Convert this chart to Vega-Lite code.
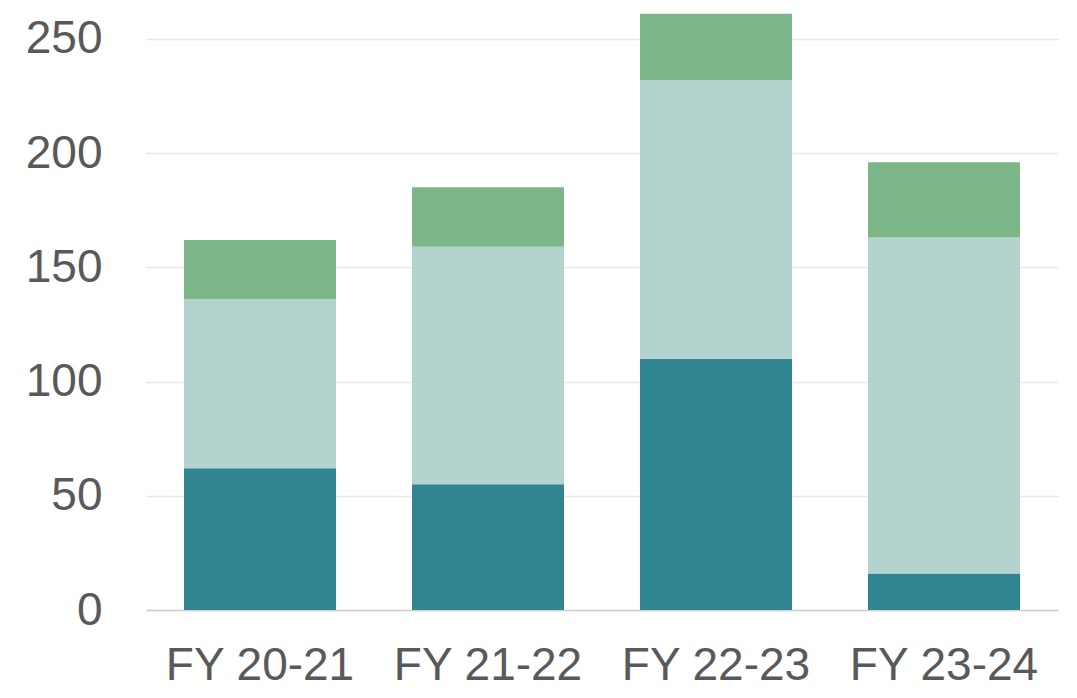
{
  "$schema": "https://vega.github.io/schema/vega-lite/v6.json",
  "width": 912,
  "height": 610,
  "autosize": {"type": "none"},
  "padding": {"left": 146, "top": 0, "right": 19, "bottom": 88},
  "background": "white",
  "config": {"view": {"stroke": null}, "font": "Liberation Sans"},
  "data": {
    "values": [
      {"year": "FY 20-21", "part": "A", "value": 62},
      {"year": "FY 20-21", "part": "B", "value": 74},
      {"year": "FY 20-21", "part": "C", "value": 26},
      {"year": "FY 21-22", "part": "A", "value": 55},
      {"year": "FY 21-22", "part": "B", "value": 104},
      {"year": "FY 21-22", "part": "C", "value": 26},
      {"year": "FY 22-23", "part": "A", "value": 110},
      {"year": "FY 22-23", "part": "B", "value": 122},
      {"year": "FY 22-23", "part": "C", "value": 29},
      {"year": "FY 23-24", "part": "A", "value": 16},
      {"year": "FY 23-24", "part": "B", "value": 147},
      {"year": "FY 23-24", "part": "C", "value": 33}
    ]
  },
  "mark": {"type": "bar"},
  "encoding": {
    "x": {
      "field": "year",
      "type": "nominal",
      "sort": null,
      "title": null,
      "scale": {"paddingInner": 0.3333, "paddingOuter": 0.1667},
      "axis": {
        "labelAngle": 0,
        "labelFontSize": 46,
        "labelColor": "#595959",
        "labelPadding": 33,
        "labelLimit": 0,
        "labelOverlap": false,
        "ticks": false,
        "domainColor": "#d0d0d0",
        "domainWidth": 1.5,
        "grid": false
      }
    },
    "y": {
      "field": "value",
      "type": "quantitative",
      "stack": "zero",
      "title": null,
      "scale": {"domain": [0, 267], "nice": false},
      "axis": {
        "values": [0, 50, 100, 150, 200, 250],
        "labelFontSize": 46,
        "labelColor": "#595959",
        "labelPadding": 44,
        "ticks": false,
        "domain": false,
        "gridColor": "#e8e8e8",
        "gridWidth": 1.5
      }
    },
    "color": {
      "field": "part",
      "type": "nominal",
      "legend": null,
      "scale": {"domain": ["A", "B", "C"], "range": ["#318491", "#b3d4ce", "#7db688"]}
    },
    "order": {"field": "part", "type": "nominal"}
  }
}
